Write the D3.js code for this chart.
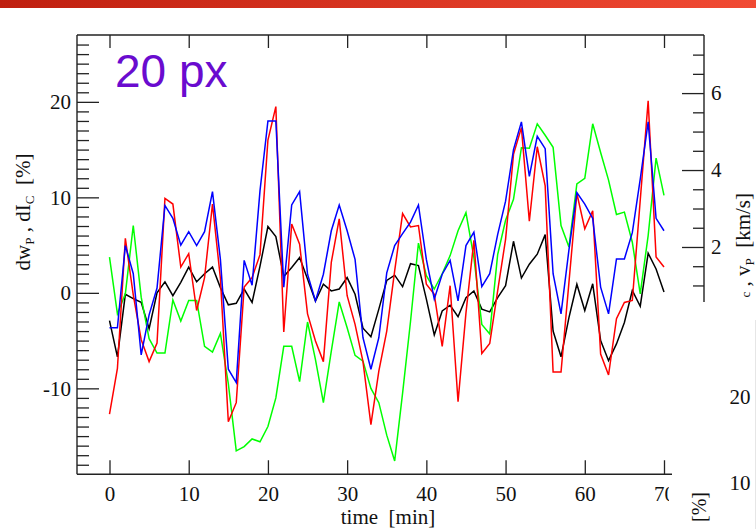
<!DOCTYPE html>
<html><head><meta charset="utf-8">
<script src="https://cdn.jsdelivr.net/npm/d3@7"></script>
<style>html,body{margin:0;padding:0;background:#fff;overflow:hidden}</style>
</head><body>
<svg id="chart" width="756" height="529"></svg>
<script>
// time axis (minutes)
const minutes = d3.range(0, 71);
// series values [%]
const blackSeries = [-2.9,-6.7,-0.15,-0.6,-1.0,-3.75,0.0,1.15,-0.3,1.1,2.7,1.15,2.0,2.7,0.55,-1.25,-1.1,0.4,-1.0,2.8,6.95,5.9,1.7,2.65,3.7,1.45,-0.85,0.9,0.2,0.4,1.6,-0.15,-3.7,-4.6,-1.7,1.3,1.85,0.65,3.05,2.85,-0.65,-4.4,-1.9,-1.3,-2.5,-0.5,0.2,-1.7,-2.0,-0.5,0.75,5.4,1.55,3.0,4.05,6.1,-4.0,-6.7,-2.6,0.9,-1.85,0.95,-5.0,-7.1,-5.35,-3.1,0.25,-1.4,4.15,2.5,0.1];
const redSeries = [-12.7,-7.9,5.7,-0.2,-4.9,-7.2,-5.25,9.9,9.3,2.7,4.1,-1.85,1.6,9.3,1.5,-13.5,-11.5,0.6,1.6,4.0,16.0,19.5,-4.1,7.2,5.1,-2.2,-5.05,-7.2,3.2,7.75,-0.3,-3.3,-7.2,-13.8,-8.2,-4.0,2.3,8.3,6.9,7.05,0.9,-0.15,-5.6,0.75,-11.4,-2.1,5.5,-6.35,-5.3,0.2,5.6,14.5,17.3,7.5,15.3,11.2,-8.3,-8.3,1.1,10.4,6.7,8.6,-6.4,-8.6,-2.7,-1.0,-0.8,9.7,20.1,3.75,2.7];
const blueSeries = [-3.65,-3.65,4.95,2.0,-6.5,-2.3,0.5,9.15,7.8,5.0,6.4,4.95,6.4,10.6,3.5,-8.0,-9.4,3.4,0.8,10.7,18.0,18.0,0.6,9.2,10.6,1.95,-0.85,1.95,6.5,9.2,6.5,3.5,-4.7,-8.0,-4.7,2.1,4.95,6.2,7.4,9.2,3.5,-0.65,1.95,3.4,-0.85,4.95,6.35,0.65,2.0,6.1,9.6,15.0,17.9,12.2,16.4,15.1,2.0,-2.2,4.5,10.5,9.3,7.8,0.6,-2.2,3.55,3.55,6.3,11.9,17.9,7.8,6.5];
const greenSeries = [3.75,-2.2,-0.1,7.05,-0.45,-4.8,-6.3,-6.3,-0.75,-2.95,-0.8,-0.8,-5.6,-6.2,-4.25,-9.5,-16.55,-16.1,-15.3,-15.6,-14.0,-11.0,-5.6,-5.6,-9.3,-3.05,-7.0,-11.5,-6.1,-0.95,-3.65,-6.55,-7.15,-10.0,-11.5,-14.9,-17.6,-10.5,-3.0,5.2,1.8,0.4,2.0,3.9,6.5,8.4,3.7,-3.3,-4.3,4.0,7.6,9.8,15.2,15.15,17.7,16.5,15.25,7.05,4.8,11.4,12.0,17.7,14.7,11.8,8.2,8.45,5.3,-0.1,6.0,14.1,10.2];
// tick labels
const xTicks = [0,10,20,30,40,50,60,70];
const leftTicks = [-10,0,10,20];
const rightTicks = [2,4,6];
const sideLabels = ["20","10"];

const W = 756, H = 529;
const svg = d3.select("#chart");
const serif = "'Liberation Serif','Times New Roman',serif";
const plainFmt = d => String(d);

// top banner gradient
const defs = svg.append("defs");
const grad = defs.append("linearGradient").attr("id","topbar").attr("x1","0").attr("x2","1").attr("y1","0").attr("y2","0");
grad.append("stop").attr("offset","0").attr("stop-color","#bf1f0f");
grad.append("stop").attr("offset","1").attr("stop-color","#f14a33");
svg.append("rect").attr("x",0).attr("y",0).attr("width",W).attr("height",8).attr("fill","url(#topbar)");
defs.append("clipPath").attr("id","bclip").append("rect").attr("x",0).attr("y",-30).attr("width",669).attr("height",100);

const L = 77, R = 704, T = 35, B = 474.3, BR = 672, RB = 302;
const x = d3.scaleLinear().domain([0,70]).range([109.5,664]);
const y = d3.scaleLinear().domain([-19,27]).range([B,T]);
const yR = d3.scaleLinear().domain([0.57,7.51]).range([RB,T]);

const axisColor = "#222";
function styleAxis(g, fs){
  g.select(".domain").remove();
  g.selectAll("line").attr("stroke",axisColor).attr("stroke-width",1.3);
  g.selectAll("text").attr("font-family",serif).attr("font-size",fs).attr("fill","#111");
}

// series lines
const line = d3.line().x((d,i)=>x(minutes[i])).y(d=>y(d));
const series = [
  {v: blackSeries, c:"#000000"},
  {v: greenSeries, c:"#00ff00"},
  {v: redSeries, c:"#ff0000"},
  {v: blueSeries, c:"#0000ff"}
];
svg.append("g").selectAll("path").data(series).join("path")
  .attr("d", d=>line(d.v)).attr("fill","none").attr("stroke",d=>d.c)
  .attr("stroke-width",1.5).attr("stroke-linejoin","miter");

// left axis
const gl = svg.append("g").attr("transform",`translate(${L},0)`)
  .call(d3.axisLeft(y).tickValues(leftTicks).tickFormat(plainFmt).tickSizeInner(-22).tickSizeOuter(0).tickPadding(6));
styleAxis(gl, 21);
const glm = svg.append("g").attr("transform",`translate(${L},0)`)
  .call(d3.axisLeft(y).tickValues(d3.range(-18,27).filter(v=>v%10!==0)).tickSizeInner(-12).tickSizeOuter(0).tickFormat(""));
styleAxis(glm, 10);

// bottom axis
const gb = svg.append("g").attr("transform",`translate(0,${B})`).attr("clip-path","url(#bclip)")
  .call(d3.axisBottom(x).tickValues(xTicks).tickFormat(plainFmt).tickSizeInner(-14).tickSizeOuter(0).tickPadding(12));
styleAxis(gb, 21);

// top axis
const gt = svg.append("g").attr("transform",`translate(0,${T})`)
  .call(d3.axisTop(x).tickValues(xTicks).tickSizeInner(-13).tickSizeOuter(0).tickFormat(""));
styleAxis(gt, 10);

// right axis
const gr = svg.append("g").attr("transform",`translate(${R},0)`)
  .call(d3.axisRight(yR).tickValues(rightTicks).tickFormat(plainFmt).tickSizeInner(-22).tickSizeOuter(0).tickPadding(7));
styleAxis(gr, 21);
const grm = svg.append("g").attr("transform",`translate(${R},0)`)
  .call(d3.axisRight(yR).tickValues(d3.range(1,7.01,0.5).filter(v=>v%2!==0)).tickSizeInner(-11).tickSizeOuter(0).tickFormat(""));
styleAxis(grm, 10);

// frame lines
const frame = svg.append("g").attr("stroke",axisColor).attr("stroke-width",1.4);
frame.append("line").attr("x1",L).attr("x2",R).attr("y1",T).attr("y2",T);
frame.append("line").attr("x1",L).attr("x2",L).attr("y1",T).attr("y2",B);
frame.append("line").attr("x1",L).attr("x2",BR).attr("y1",B).attr("y2",B);
frame.append("line").attr("x1",R).attr("x2",R).attr("y1",T).attr("y2",RB);

// faint panel edge
svg.append("line").attr("x1",755.5).attr("x2",755.5).attr("y1",320).attr("y2",H).attr("stroke","#e6e6e6").attr("stroke-width",1);

// big purple label
svg.append("text").attr("x",115).attr("y",87).attr("font-family","'Liberation Sans',Arial,sans-serif")
  .attr("font-size",46).attr("fill","#6a0bcf").text("20 px");

// left y label
const ly = svg.append("text").attr("transform","translate(30,212) rotate(-90)")
  .attr("text-anchor","middle").attr("font-family",serif).attr("font-size",21).attr("fill","#111")
  .attr("xml:space","preserve");
ly.append("tspan").text("dw");
ly.append("tspan").attr("font-size",13).attr("dy",4).text("P");
ly.append("tspan").attr("dy",-4).text(" , dI");
ly.append("tspan").attr("font-size",13).attr("dy",4).text("C");
ly.append("tspan").attr("dy",-4).text("  [%]");

// x label
svg.append("text").attr("x",388).attr("y",524).attr("text-anchor","middle")
  .attr("font-family",serif).attr("font-size",21).attr("fill","#111").attr("xml:space","preserve").text("time  [min]");

// right y label (partially visible)
const ry = svg.append("text").attr("transform","translate(750,193) rotate(-90)")
  .attr("text-anchor","end").attr("font-family",serif).attr("font-size",21).attr("fill","#111")
  .attr("xml:space","preserve");
ry.append("tspan").attr("font-size",13).text("c");
ry.append("tspan").text(" , v");
ry.append("tspan").attr("font-size",13).attr("dy",4).text("P");
ry.append("tspan").attr("dy",-4).text("  [km/s]");

// neighbouring axis fragments
svg.append("g").selectAll("text").data(sideLabels).join("text")
  .attr("x",740).attr("y",(d,i)=> i===0 ? 404 : 490).attr("text-anchor","middle")
  .attr("font-family",serif).attr("font-size",21).attr("fill","#111").text(d=>d);
svg.append("text").attr("transform","translate(706,507) rotate(-90)").attr("text-anchor","middle")
  .attr("font-family",serif).attr("font-size",20).attr("fill","#111").text("[%]");
</script>
</body></html>
